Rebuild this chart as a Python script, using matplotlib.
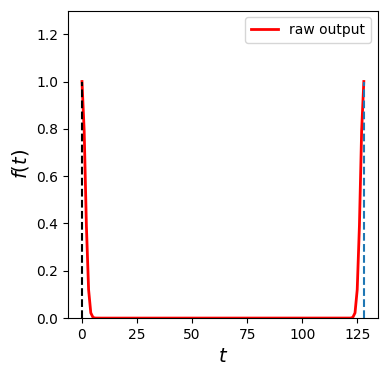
import numpy as np
import matplotlib
matplotlib.use('Agg')
import matplotlib.pyplot as plt

# sample points t = 0 .. 128
t = np.arange(129)
# peak at both ends, flat zero in between
head = [1.0, 0.79, 0.39, 0.12, 0.022, 0.003, 0.0002]
tail = head[::-1]
f = np.array(head + [0.0] * (129 - 2 * len(head)) + tail)

fig, ax = plt.subplots(figsize=(3.88, 3.76), dpi=100)
fig.subplots_adjust(left=0.175, right=0.974, top=0.972, bottom=0.154)

ax.plot(t, f, 'r-', linewidth=2, label='raw output')
ax.plot([0, 0], [0, 1], 'k--')
ax.plot([128, 128], [0, 1], '--', color='tab:blue')

ax.set_ylim(0, 1.3)
ax.set_xlabel('$t$', fontsize=14)
ax.set_ylabel('$f(t)$', fontsize=14)
ax.legend(loc='upper right')

fig.savefig('out.png', dpi=100)
